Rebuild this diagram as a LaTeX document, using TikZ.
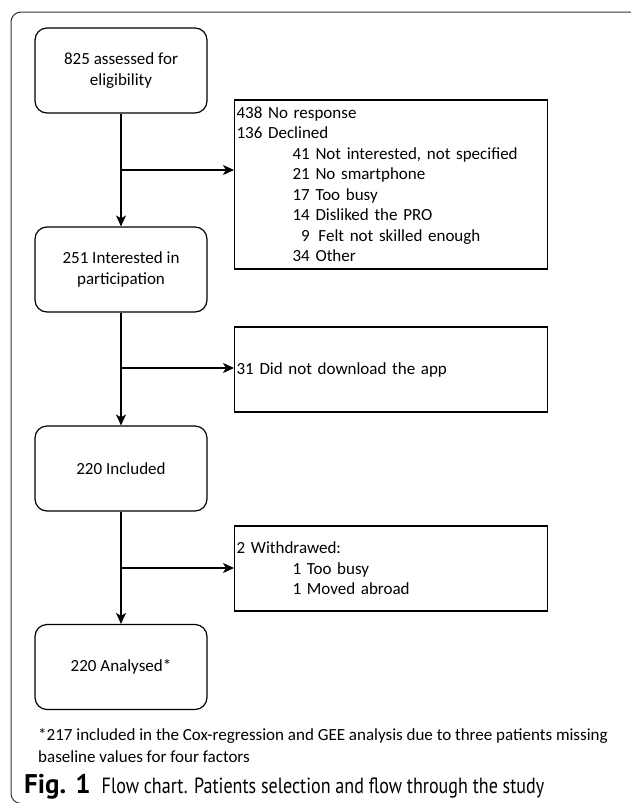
\documentclass[tikz,border=0pt]{standalone}
\usepackage{fontspec}
\setmainfont{Carlito}
\newfontfamily\capfont[FakeStretch=0.82]{PT Sans}
\newfontfamily\capbold{PT Sans}
\usetikzlibrary{arrows.meta}
\tikzset{
  stage/.style={draw,rounded corners=12pt,minimum width=172pt,minimum height=85pt,align=center,line width=1.2pt,inner sep=2pt},
  excl/.style={draw,anchor=west,minimum width=313pt,text width=309pt,inner sep=2pt,align=left,line width=1.2pt},
  flow/.style={line width=1.2pt,-{Stealth[length=11pt,width=10pt,inset=3pt]}}
}
\begin{document}
\begin{tikzpicture}[x=1pt,y=-1pt,font=\fontsize{17}{20.5}\selectfont]
	\useasboundingbox (0,0) rectangle (630,803);
	\draw[line width=1pt,rounded corners=10pt,black!80] (11,12) rectangle (660,803.5);
	\node[stage] (elig) at (121,70.5) {825 assessed for\\eligibility};
	\node[stage] (inter) at (121,269.5) {251 Interested in\\participation};
	\node[stage] (incl) at (121,468.5) {220 Included};
	\node[stage] (anal) at (121,667) {220 Analysed*};
	\node[excl,minimum height=169pt] (decl) at (234,184.5) {438 No response\\136 Declined\\
		\hspace*{56pt}41 Not interested, not specified\\
		\hspace*{56pt}21 No smartphone\\
		\hspace*{56pt}17 Too busy\\
		\hspace*{56pt}14 Disliked the PRO\\
		\hspace*{56pt}\phantom{4}9\hspace{3pt} Felt not skilled enough\\
		\hspace*{56pt}34 Other};
	\node[excl,minimum height=85pt] (noapp) at (234,369.5) {31 Did not download the app};
	\node[excl,minimum height=85pt] (withd) at (234,568.5) {2 Withdrawed:\\
		\hspace*{56pt}1 Too busy\\
		\hspace*{56pt}1 Moved abroad};
	\coordinate (b1) at (121,170);
	\coordinate (b2) at (121,368);
	\coordinate (b3) at (121,568);
	\draw[flow] (elig) -- (inter);
	\draw[flow] (inter) -- (incl);
	\draw[flow] (incl) -- (anal);
	\draw[flow] (b1) -- (b1 -| decl.west);
	\draw[flow] (b2) -- (b2 -| noapp.west);
	\draw[flow] (b3) -- (b3 -| withd.west);
	\node[anchor=north west,inner sep=0,align=left,font=\fontsize{17}{22}\selectfont] (foot) at (38,728.5) {*217 included in the Cox-regression and GEE analysis due to three patients missing\\baseline values for four factors};
	\node[anchor=base west,inner sep=0] (cap) at (24,793) {\capbold\fontsize{27}{30}\selectfont\textbf{Fig. 1}\hspace{11pt}\capfont\fontsize{22}{26}\selectfont Flow chart. Patients selection and flow through the study};
\end{tikzpicture}
\end{document}
